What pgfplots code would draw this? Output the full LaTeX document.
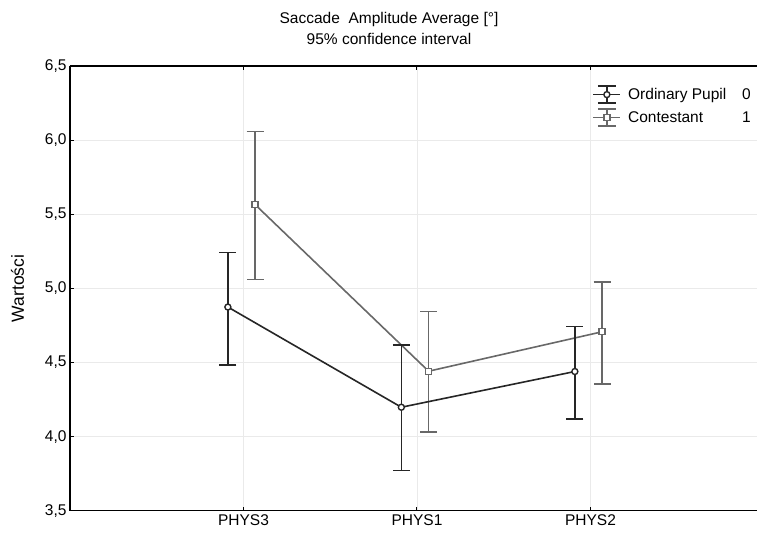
\documentclass[border=0pt]{standalone}
\usepackage{fontspec}
\setmainfont{Liberation Sans}
\setsansfont{Liberation Sans}
\usepackage{pgfplots}
\pgfplotsset{compat=1.18}
\definecolor{ordc}{HTML}{262626}
\definecolor{conc}{HTML}{686868}
\definecolor{gridc}{HTML}{EAEAEA}
\pgfplotstableread{
x y ep em
0.91 4.874 0.369 0.390
1.91 4.198 0.421 0.428
2.91 4.439 0.304 0.320
}\ordinary
\pgfplotstableread{
x y ep em
1.067 5.565 0.494 0.504
2.067 4.441 0.404 0.411
3.067 4.707 0.336 0.352
}\contestant
\begin{document}
\begin{tikzpicture}
\begin{axis}[
 at={(0,0)}, anchor=south west,
 scale only axis, width=687pt, height=444.7pt,
 xmin=0, xmax=3.96, ymin=3.5, ymax=6.5,
 axis x line*=box, axis y line*=left,
 axis line style={black, line width=1.5pt},
 xtick={1,2,3}, xticklabels={PHYS3,PHYS1,PHYS2},
 ytick={3.5,4.0,4.5,5.0,5.5,6.0,6.5},
 yticklabel style={/pgf/number format/.cd, fixed, fixed zerofill, precision=1, use comma, assume math mode=true},
 tick align=inside, major tick length=4pt, tick style={black, line width=1pt},
 grid=major, major grid style={gridc, line width=0.8pt},
 ticklabel style={font=\fontsize{15.5}{17}\selectfont},
 legend style={at={(rel axis cs:0.756,0.962)}, anchor=north west, draw=none, fill=none,
   font=\fontsize{15.5}{17}\selectfont, row sep=4pt},
 legend cell align=left,
 reverse legend,
 legend image code/.code={
   \draw[#1] (0pt,0pt) -- (27pt,0pt);
   \draw[#1] (13.5pt,-8.7pt) -- (13.5pt,8.7pt);
   \draw[#1] (4.5pt,8.7pt) -- (22.5pt,8.7pt);
   \draw[#1] (4.5pt,-8.7pt) -- (22.5pt,-8.7pt);
   \draw[#1] plot coordinates {(13.5pt,0pt)};
 },
]
\addplot[conc, line width=1.6pt, mark=square*, mark size=3pt,
  mark options={solid, fill=white, line width=1.4pt},
  error bars/.cd, y dir=both, y explicit,
  error bar style={line width=1.6pt, conc},
  error mark options={rotate=90, mark size=8.5pt, line width=1.6pt, conc}]
  table[x=x, y=y, y error plus=ep, y error minus=em] {\contestant};
\addplot[ordc, line width=1.6pt, mark=*, mark size=3pt,
  mark options={solid, fill=white, line width=1.4pt},
  error bars/.cd, y dir=both, y explicit,
  error bar style={line width=1.6pt, ordc},
  error mark options={rotate=90, mark size=8.5pt, line width=1.6pt, ordc}]
  table[x=x, y=y, y error plus=ep, y error minus=em] {\ordinary};
\legend{{\hspace{5pt}\makebox[114pt][l]{Contestant}1},{\hspace{5pt}\makebox[114pt][l]{Ordinary Pupil}0}}
\end{axis}
\node[anchor=base, font=\fontsize{15.5}{17}\selectfont] at (319pt,486.7pt) {Saccade\ \ Amplitude Average [°]};
\node[anchor=base, font=\fontsize{15.5}{17}\selectfont] at (319pt,465.7pt) {95\% confidence interval};
\node[rotate=90, font=\fontsize{17.5}{19}\selectfont] at (-52.5pt,222.35pt) {Wartości};
\pgfresetboundingbox
\useasboundingbox (-70pt,-25.3pt) rectangle (687pt,510.7pt);
\end{tikzpicture}
\end{document}
